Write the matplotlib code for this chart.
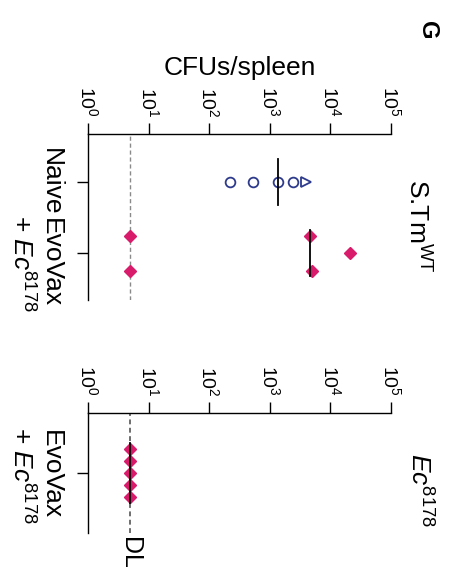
import matplotlib
matplotlib.use("Agg")
import matplotlib.pyplot as plt
import matplotlib.transforms as mtransforms
from matplotlib.ticker import NullLocator
import numpy as np

plt.rcParams['font.family'] = ['Liberation Sans', 'DejaVu Sans']
plt.rcParams['mathtext.fontset'] = 'custom'
plt.rcParams['mathtext.rm'] = 'Liberation Sans'
plt.rcParams['mathtext.it'] = 'Liberation Sans:italic'
plt.rcParams['mathtext.bf'] = 'Liberation Sans:bold'

# ---- data ----
detection_limit = 5
decades = [1, 10, 100, 1000, 10000, 100000]
decade_labels = [r'$10^{%d}$' % i for i in range(6)]

stm_groups = ['Naive', 'EvoVax\n+ $Ec^{8178}$']
stm_naive = [220, 535, 1380, 2450, 3900]
stm_naive_markers = ['o', 'o', 'o', 'o', '>']
stm_evovax = [5, 5, 4600, 4900, 21000]
stm_evovax_jitter = [-0.24, 0.25, -0.24, 0.25, 0.0]

ec_groups = ['EvoVax\n+ $Ec^{8178}$']
ec_evovax = [5, 5, 5, 5, 5]
ec_evovax_jitter = [-0.34, -0.17, 0.0, 0.17, 0.34]

navy = '#2e3a8c'
pink = '#d81b6b'
grey = '#6e6e6e'

W, H = 451, 576
fig = plt.figure(figsize=(W / 100, H / 100), dpi=100)


def frac_axes(left, top, right, bottom):
    """Axes box given in pixel edges from the top-left corner."""
    return fig.add_axes([left / W, 1 - bottom / H, (right - left) / W, (bottom - top) / H])


def style_axes(ax, groups, shifts):
    ax.set_xscale('log')
    ax.set_xlim(decades[0], decades[-1])
    ax.xaxis.tick_top()
    ax.set_xticks(decades)
    ax.set_xticklabels(decade_labels)
    ax.xaxis.set_minor_locator(NullLocator())
    ax.tick_params(axis='x', direction='out', length=8, width=1, pad=4,
                   labelsize=14, labelrotation=-90)
    # group names are written by hand so the long one can slide down a bit
    ax.set_yticks(range(len(groups)))
    ax.set_yticklabels([])
    ax.tick_params(axis='y', direction='out', length=8, width=1)
    blend = mtransforms.blended_transform_factory(ax.transAxes, ax.transData)
    for i, (name, dy) in enumerate(zip(groups, shifts)):
        off = mtransforms.ScaledTranslation(0, -dy / 100, fig.dpi_scale_trans)
        ax.text(-25 / 303, i, name, transform=blend + off, rotation=-90,
                fontsize=19, ha='right', va='center', ma='center')
    for side in ['right', 'bottom']:
        ax.spines[side].set_visible(False)
    for side in ['top', 'left']:
        ax.spines[side].set_linewidth(1)


def median_bar(ax, values, y, half=0.33):
    m = np.median(values)
    ax.plot([m, m], [y - half, y + half], color='black', lw=1.3, zorder=5)


# ---- S.Tm WT panel ----
ax1 = frac_axes(88, 134, 391, 300)
style_axes(ax1, stm_groups, [0, 10])
ax1.set_ylim(1.662, -0.676)
ax1.axvline(detection_limit, color='#8a8a8a', ls=(0, (3, 2)), lw=1, zorder=1)
for v, mk in zip(stm_naive, stm_naive_markers):
    ax1.plot(v, 0, marker=mk, ms=7, mfc='none', mec=navy, mew=1.3, ls='none', zorder=3)
median_bar(ax1, stm_naive, 0)
ax1.plot(stm_evovax, 1 + np.array(stm_evovax_jitter), 'D', ms=5.8,
         color=pink, ls='none', zorder=3)
median_bar(ax1, stm_evovax, 1)
ax1.set_xlabel('CFUs/spleen', fontsize=19, labelpad=8)
ax1.xaxis.set_label_position('top')
ax1.text(1.086, 0.45, r'S.Tm$^{\mathregular{WT}}$', transform=ax1.transAxes,
         rotation=-90, fontsize=19, ha='center', va='center')

# ---- Ec 8178 panel ----
ax2 = frac_axes(88, 413, 391, 533)
style_axes(ax2, ec_groups, [2])
ax2.set_ylim(0.845, -0.845)
ax2.axvline(detection_limit, color=grey, ls=(0, (2.5, 1.8)), lw=1.4, zorder=1)
ax2.plot(ec_evovax, np.array(ec_evovax_jitter), 'D', ms=5.8,
         color=pink, ls='none', zorder=3)
median_bar(ax2, ec_evovax, 0, half=0.42)
ax2.text(1.092, 0.36, r'$Ec^{8178}$', transform=ax2.transAxes,
         rotation=-90, fontsize=19, ha='center', va='center')
blend = mtransforms.blended_transform_factory(ax2.transData, ax2.transAxes)
ax2.text(detection_limit, -0.17, 'DL', transform=blend, rotation=-90,
         fontsize=18, ha='center', va='center')

fig.text(428 / W, 1 - 30 / H, 'G', rotation=-90, fontsize=17,
         fontweight='bold', ha='center', va='center')

fig.savefig('out.png', dpi=100)
